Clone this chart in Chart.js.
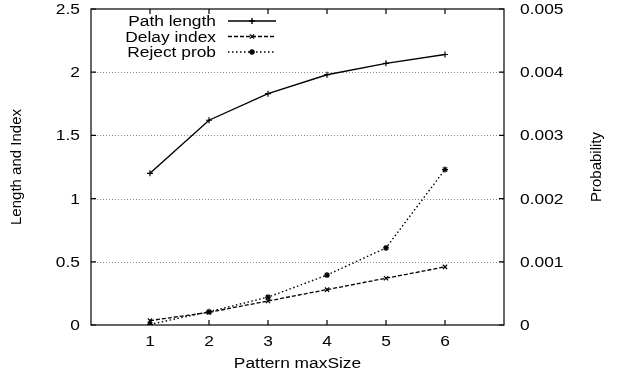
<!DOCTYPE html>
<html>
<head>
<meta charset="utf-8">
<script src="https://cdn.jsdelivr.net/npm/chart.js@4/dist/chart.umd.min.js"></script>
<style>
  html, body { margin: 0; padding: 0; background: #fff; }
  #wrap { width: 618px; height: 372px; }
</style>
</head>
<body>
<div id="wrap"><canvas id="chart"></canvas></div>
<script>
// Pattern maxSize values on the x axis
const maxSizes = [1, 2, 3, 4, 5, 6];

// Series (left axis: length/index, right axis: probability)
const pathLength = [1.20, 1.62, 1.83, 1.98, 2.07, 2.14];
const delayIndex = [0.035, 0.10, 0.19, 0.28, 0.37, 0.46];
const rejectProb = [0.00001, 0.00021, 0.00044, 0.00079, 0.00122, 0.00246];

// Tick labels
const xTicks = [1, 2, 3, 4, 5, 6];
const leftTicks = ['0', '0.5', '1', '1.5', '2', '2.5'];
const rightTicks = ['0', '0.001', '0.002', '0.003', '0.004', '0.005'];
const gridValues = [0.5, 1, 1.5, 2];

const FONT = '"Liberation Sans", Arial, Helvetica, sans-serif';
const STRETCH = 1.24;   // wide lettering for horizontal labels

function toPoints(values) {
    return maxSizes.map((x, i) => ({ x: x, y: values[i] }));
}

// Horizontal text drawn a little wider than the face's natural width
function wideText(ctx, text, x, y, align) {
    ctx.save();
    ctx.translate(x, y);
    ctx.scale(STRETCH, 1);
    ctx.textAlign = align;
    ctx.textBaseline = 'alphabetic';
    ctx.fillText(text, 0, 0);
    ctx.restore();
}

function vertText(ctx, text, x, y) {
    ctx.save();
    ctx.translate(x, y);
    ctx.rotate(-Math.PI / 2);
    ctx.textAlign = 'center';
    ctx.textBaseline = 'middle';
    ctx.fillText(text, 0, 0);
    ctx.restore();
}

/**
 * Dotted grid behind the lines
 */
const gridPlugin = {
    id: 'dottedGrid',
    beforeDatasetsDraw(chart) {
        const { ctx, chartArea, scales } = chart;
        ctx.save();
        ctx.strokeStyle = '#8a8a8a';
        ctx.lineWidth = 1;
        ctx.setLineDash([1, 2]);
        gridValues.forEach(v => {
            const y = Math.round(scales.y.getPixelForValue(v)) + 0.5;
            ctx.beginPath();
            ctx.moveTo(chartArea.left, y);
            ctx.lineTo(chartArea.right, y);
            ctx.stroke();
        });
        ctx.restore();
    }
};

/**
 * Frame, inward ticks, labels, titles and key
 */
const framePlugin = {
    id: 'frame',
    afterDatasetsDraw(chart) {
        const { ctx, chartArea, scales } = chart;
        const { left, right, top, bottom } = chartArea;
        const tick = 5;

        ctx.save();
        ctx.strokeStyle = '#000';
        ctx.lineWidth = 1.2;
        ctx.setLineDash([]);
        ctx.strokeRect(left, top, right - left, bottom - top);

        ctx.beginPath();
        xTicks.forEach(v => {
            const x = scales.x.getPixelForValue(v);
            ctx.moveTo(x, bottom); ctx.lineTo(x, bottom - tick);
            ctx.moveTo(x, top); ctx.lineTo(x, top + tick);
        });
        leftTicks.forEach(t => {
            const y = scales.y.getPixelForValue(parseFloat(t));
            ctx.moveTo(left, y); ctx.lineTo(left + tick, y);
        });
        rightTicks.forEach(t => {
            const y = scales.y1.getPixelForValue(parseFloat(t));
            ctx.moveTo(right, y); ctx.lineTo(right - tick, y);
        });
        ctx.stroke();

        ctx.fillStyle = '#000';
        ctx.font = '14px ' + FONT;
        xTicks.forEach(v => {
            wideText(ctx, String(v), scales.x.getPixelForValue(v), bottom + 21, 'center');
        });
        leftTicks.forEach(t => {
            wideText(ctx, t, left - 11, scales.y.getPixelForValue(parseFloat(t)) + 5, 'right');
        });
        rightTicks.forEach(t => {
            wideText(ctx, t, right + 16, scales.y1.getPixelForValue(parseFloat(t)) + 5, 'left');
        });
        wideText(ctx, 'Pattern maxSize', (left + right) / 2, 368, 'center');

        ctx.font = '15px ' + FONT;
        vertText(ctx, 'Length and Index', 17, (top + bottom) / 2);
        vertText(ctx, 'Probability', 597, (top + bottom) / 2);

        // key in the upper left corner
        ctx.font = '14px ' + FONT;
        chart.data.datasets.forEach((ds, i) => {
            const y = 21 + i * 15.5;
            wideText(ctx, ds.label, 216, y + 5, 'right');
            ctx.save();
            ctx.strokeStyle = '#000';
            ctx.lineWidth = ds.borderWidth;
            ctx.setLineDash(ds.borderDash || []);
            ctx.beginPath();
            ctx.moveTo(228, y);
            ctx.lineTo(276, y);
            ctx.stroke();
            ctx.setLineDash([]);
            Chart.helpers.drawPoint(ctx, {
                pointStyle: ds.pointStyle,
                radius: ds.pointRadius,
                borderWidth: 1.2,
                rotation: 0
            }, 252, y);
            ctx.restore();
        });
        ctx.restore();
    }
};

const config = {
    type: 'line',
    data: {
        datasets: [
            {
                label: 'Path length',
                data: toPoints(pathLength),
                yAxisID: 'y',
                borderColor: '#000',
                borderWidth: 1.4,
                pointStyle: 'cross',
                pointRadius: 3,
                pointBorderColor: '#000',
                pointBorderWidth: 1.2
            },
            {
                label: 'Delay index',
                data: toPoints(delayIndex),
                yAxisID: 'y',
                borderColor: '#000',
                borderWidth: 1.3,
                borderDash: [4, 2],
                pointStyle: 'crossRot',
                pointRadius: 3,
                pointBorderColor: '#000',
                pointBorderWidth: 1.2
            },
            {
                label: 'Reject prob',
                data: toPoints(rejectProb),
                yAxisID: 'y1',
                borderColor: '#000',
                borderWidth: 1.4,
                borderDash: [1.5, 2.5],
                pointStyle: 'star',
                pointRadius: 3,
                pointBorderColor: '#000',
                pointBorderWidth: 1.3
            }
        ]
    },
    options: {
        responsive: true,
        maintainAspectRatio: false,
        animation: false,
        layout: { padding: { top: 9, left: 0, right: 0, bottom: 0 } },
        plugins: {
            legend: { display: false },
            tooltip: { enabled: false }
        },
        elements: { line: { tension: 0, fill: false } },
        scales: {
            x: {
                type: 'linear',
                min: 0,
                max: 7,
                grid: { display: false },
                border: { display: false },
                ticks: { display: false },
                afterFit(scale) { scale.height = 47; }
            },
            y: {
                position: 'left',
                min: 0,
                max: 2.5,
                grid: { display: false },
                border: { display: false },
                ticks: { display: false },
                afterFit(scale) { scale.width = 91; }
            },
            y1: {
                position: 'right',
                min: 0,
                max: 0.005,
                grid: { display: false },
                border: { display: false },
                ticks: { display: false },
                afterFit(scale) { scale.width = 114; }
            }
        }
    },
    plugins: [gridPlugin, framePlugin]
};

new Chart(document.getElementById('chart'), config);
</script>
</body>
</html>
